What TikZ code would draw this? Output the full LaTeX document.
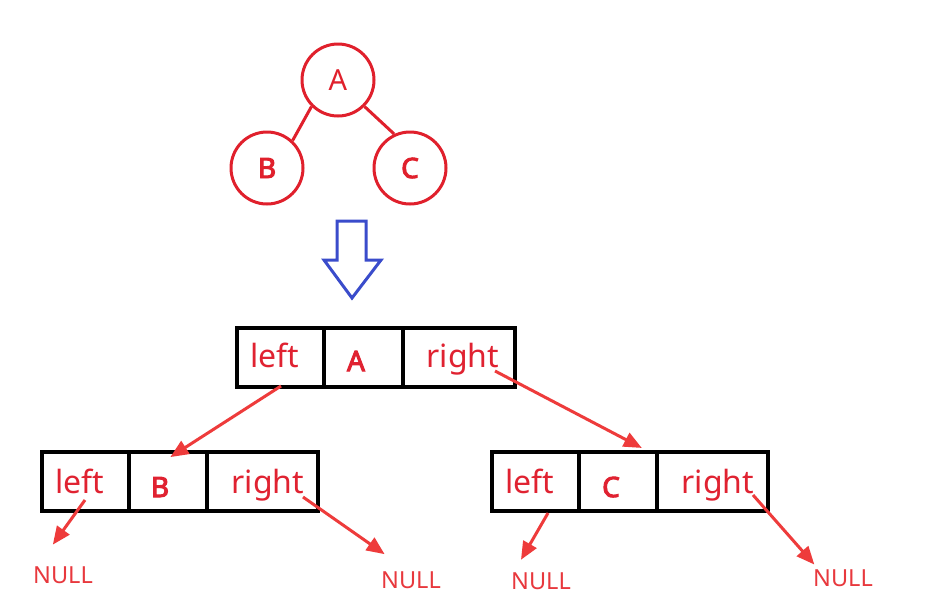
\documentclass[tikz,border=0pt]{standalone}
\usepackage{fontspec}
\setmainfont{Noto Sans}
\newfontfamily\fbold[FakeBold=3.5]{Noto Sans}
\usetikzlibrary{arrows.meta}
\definecolor{treered}{HTML}{E0202C}
\definecolor{arrred}{HTML}{EE3B3B}
\definecolor{txtred}{HTML}{E02231}
\definecolor{nullred}{HTML}{E8383D}
\definecolor{bluearr}{HTML}{3A4CCB}
\tikzset{
  tnode/.style={circle,draw=treered,line width=3pt,minimum size=72pt,inner sep=0pt,text=treered,font=\fontsize{29}{30}\selectfont},
  tedge/.style={treered,line width=3pt},
  cell/.style={draw=black,line width=4pt,inner sep=0pt,minimum height=59pt},
  ctext/.style={text=txtred,font=\fontsize{32}{34}\selectfont,anchor=base,inner sep=0pt},
  ltext/.style={text=txtred,font=\fbold\fontsize{28}{30}\selectfont,anchor=base,inner sep=0pt},
  ptr/.style={arrred,line width=3pt,-{Triangle[length=18pt,width=15pt]},shorten >=-2pt},
  nulltext/.style={text=nullred,font=\fontsize{23.5}{25}\selectfont,inner sep=0pt}
}
\begin{document}
\begin{tikzpicture}[x=1pt,y=-1pt]
\useasboundingbox[fill=white] (0,0) rectangle (952,606);
% tree
\node[tnode] (A) at (338,80) {A};
\node[tnode,font=\fbold\fontsize{28}{30}\selectfont] (B) at (267,168) {B};
\node[tnode,font=\fbold\fontsize{28}{30}\selectfont] (C) at (410,168) {C};
\draw[tedge] (A.225) -- (B.47);
\draw[tedge] (A.-45) -- (C.115);
% blue arrow
\draw[bluearr,line width=3pt,line join=miter]
  (337,221) -- (366,221) -- (366,260) -- (381,260) -- (352,298) -- (324,260) -- (337,260) -- cycle;
% top record
\node[cell,minimum width=87pt] (rA1) at (280.5,357) {};
\node[cell,minimum width=79pt] (rA2) at (363.5,357) {};
\node[cell,minimum width=112pt] (rA3) at (459,357) {};
\node[ctext] (tA1) at (275,367) {left};
\node[ltext] (tA2) at (356,371) {A};
\node[ctext] (tA3) at (463,367) {right};
% bottom left record
\node[cell,minimum width=87pt] (rB1) at (85.5,481.5) {};
\node[cell,minimum width=78pt] (rB2) at (168,481.5) {};
\node[cell,minimum width=111pt] (rB3) at (262.5,481.5) {};
\node[ctext] (tB1) at (80,493) {left};
\node[ltext] (tB2) at (160,497) {B};
\node[ctext] (tB3) at (268,493) {right};
% bottom right record
\node[cell,minimum width=87pt] (rC1) at (535.5,481.5) {};
\node[cell,minimum width=78pt] (rC2) at (618,481.5) {};
\node[cell,minimum width=111pt] (rC3) at (712.5,481.5) {};
\node[ctext] (tC1) at (530,493) {left};
\node[ltext] (tC2) at (611,497) {C};
\node[ctext] (tC3) at (718,493) {right};
% NULL labels
\node[nulltext] (n1) at (63,575) {NULL};
\node[nulltext] (n2) at (411,580) {NULL};
\node[nulltext] (n3) at (541,581) {NULL};
\node[nulltext] (n4) at (843,578) {NULL};
% pointer coordinates
\coordinate (sA1) at (281,386);
\coordinate (eA1) at (172,456);
\coordinate (sA3) at (495,371);
\coordinate (eA3) at (640,447);
\coordinate (sB1) at (85,500);
\coordinate (eB1) at (54,543);
\coordinate (sB3) at (303,497);
\coordinate (eB3) at (383,553);
\coordinate (sC1) at (548,513);
\coordinate (eC1) at (522,558);
\coordinate (sC3) at (753,495);
\coordinate (eC3) at (813,563);
\draw[ptr] (sA1) -- (eA1);
\draw[ptr] (sA3) -- (eA3);
\draw[ptr] (sB1) -- (eB1);
\draw[ptr] (sB3) -- (eB3);
\draw[ptr] (sC1) -- (eC1);
\draw[ptr] (sC3) -- (eC3);
\end{tikzpicture}
\end{document}
